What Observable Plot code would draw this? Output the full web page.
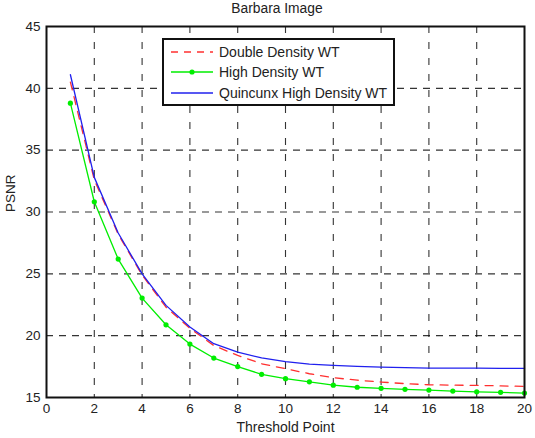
<!DOCTYPE html>
<html>
<head>
<meta charset="utf-8">
<script src="https://cdn.jsdelivr.net/npm/d3@7"></script>
<script src="https://cdn.jsdelivr.net/npm/@observablehq/plot@0.6"></script>
<style>
  body { margin: 0; background: #fff; font-family: "Liberation Sans", Arial, sans-serif; }
  #wrap { position: relative; width: 535px; height: 438px; }
  #title { position: absolute; left: 46px; width: 462px; top: 1px; text-align: center; font-size: 13.8px; color: #222; }
  #legend { position: absolute; left: 162px; top: 38px; width: 229px; height: 64px; border: 2px solid #111; background: #fff; font-size: 14px; color: #222; }
  .row { position: absolute; left: 6px; height: 20px; display: flex; align-items: center; }
  .row svg { margin-right: 5px; }
  #chart { position: absolute; left: 0; top: 20px; }
</style>
</head>
<body>
<div id="wrap">
  <div id="title"></div>
  <div id="chart"></div>
  <div id="legend"></div>
</div>
<script>
const titleText = "Barbara Image";
const xLabel = "Threshold Point";
const yLabel = "PSNR";
const thresholds = [1,2,3,4,5,6,7,8,9,10,11,12,13,14,15,16,17,18,19,20];
const doubleDensity = [40.5,32.6,28.2,24.9,22.3,20.6,19.2,18.4,17.73,17.33,16.92,16.6,16.4,16.25,16.12,16.03,16.0,15.98,15.94,15.9];
const highDensity = [38.8,30.83,26.19,23.04,20.88,19.32,18.19,17.5,16.87,16.52,16.27,16.0,15.83,15.74,15.66,15.6,15.52,15.46,15.42,15.36];
const quincunx = [41.1,32.8,28.3,25.0,22.45,20.7,19.35,18.67,18.2,17.9,17.7,17.6,17.52,17.46,17.42,17.38,17.38,17.38,17.36,17.35];
const seriesNames = ["Double Density WT", "High Density WT", "Quincunx High Density WT"];
const seriesColors = ["#ff3030", "#00ee00", "#2020ee"];
const xTicks = [0,2,4,6,8,10,12,14,16,18,20];
const yTicks = [15,20,25,30,35,40,45];

const toRows = (vals) => thresholds.map((t, i) => ({x: t, y: vals[i]}));
const dd = toRows(doubleDensity), hd = toRows(highDensity), qd = toRows(quincunx);

document.getElementById("title").textContent = titleText;

const chart = Plot.plot({
  width: 535,
  height: 418,
  marginLeft: 46,
  marginRight: 11,
  marginTop: 6,
  marginBottom: 41,
  style: {fontFamily: "Liberation Sans, Arial, sans-serif", fontSize: "13.5px", color: "#222", background: "#fff"},
  x: {domain: [0, 20]},
  y: {domain: [15, 45]},
  marks: [
    Plot.gridX(xTicks.slice(1, -1), {stroke: "#111", strokeOpacity: 0.85, strokeWidth: 1.1, strokeDasharray: "7,9"}),
    Plot.gridY(yTicks.slice(1, -1), {stroke: "#111", strokeOpacity: 0.85, strokeWidth: 1.1, strokeDasharray: "7,6"}),
    Plot.axisX(xTicks, {tickSize: 0, tickPadding: 6, label: null, fontSize: 13.5}),
    Plot.axisY(yTicks, {tickSize: 0, tickPadding: 6, label: null, fontSize: 13.5}),
    Plot.lineY(hd, {x: "x", y: "y", stroke: seriesColors[1], strokeWidth: 1.3}),
    Plot.dot(hd, {x: "x", y: "y", fill: seriesColors[1], r: 2.6}),
    Plot.lineY(dd, {x: "x", y: "y", stroke: seriesColors[0], strokeWidth: 1.3, strokeDasharray: "8,7"}),
    Plot.lineY(qd, {x: "x", y: "y", stroke: seriesColors[2], strokeWidth: 1.3}),
    Plot.frame({stroke: "#111", strokeWidth: 2}),
    Plot.text([xLabel], {frameAnchor: "bottom", dy: 30, lineAnchor: "middle", fontSize: 14}),
    Plot.text([yLabel], {frameAnchor: "left", dx: -36, rotate: -90, lineAnchor: "middle", fontSize: 13.5})
  ]
});
document.getElementById("chart").appendChild(chart);

const legend = document.getElementById("legend");
const styles = [
  {dash: "7,6", dot: false},
  {dash: null, dot: true},
  {dash: null, dot: false}
];
seriesNames.forEach((name, i) => {
  const row = document.createElement("div");
  row.className = "row";
  row.style.top = (1.5 + i * 20.5) + "px";
  const ns = "http://www.w3.org/2000/svg";
  const s = document.createElementNS(ns, "svg");
  s.setAttribute("width", 44); s.setAttribute("height", 10);
  const l = document.createElementNS(ns, "line");
  l.setAttribute("x1", 1); l.setAttribute("x2", 43); l.setAttribute("y1", 5); l.setAttribute("y2", 5);
  l.setAttribute("stroke", seriesColors[i]); l.setAttribute("stroke-width", 1.3);
  if (styles[i].dash) l.setAttribute("stroke-dasharray", styles[i].dash);
  s.appendChild(l);
  if (styles[i].dot) {
    const c = document.createElementNS(ns, "circle");
    c.setAttribute("cx", 22); c.setAttribute("cy", 5); c.setAttribute("r", 2.6); c.setAttribute("fill", seriesColors[i]);
    s.appendChild(c);
  }
  row.appendChild(s);
  const t = document.createElement("span");
  t.textContent = name;
  row.appendChild(t);
  legend.appendChild(row);
});
</script>
</body>
</html>
